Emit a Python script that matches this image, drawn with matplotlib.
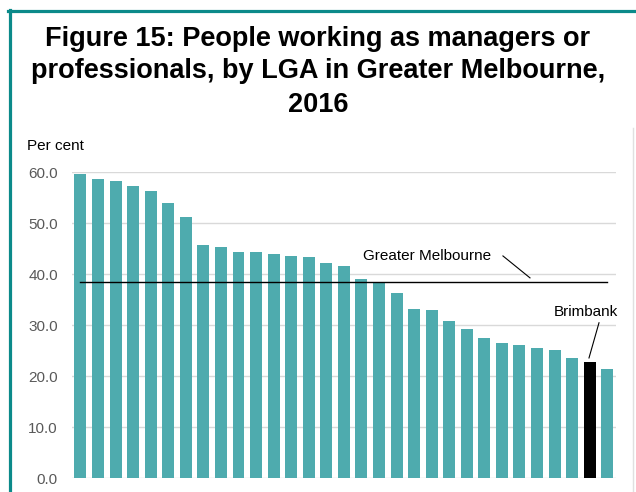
import numpy as np
import matplotlib
matplotlib.use('Agg')
import matplotlib.pyplot as plt
from matplotlib.lines import Line2D

plt.rcParams['font.family'] = ['Liberation Sans', 'DejaVu Sans']

# share of workers who are managers or professionals, one bar per LGA (sorted)
values = [59.7, 58.7, 58.3, 57.3, 56.3, 53.9, 51.2, 45.7, 45.3, 44.3,
          44.3, 44.0, 43.6, 43.4, 42.3, 41.6, 39.1, 38.4, 36.3, 33.2,
          33.0, 30.8, 29.3, 27.5, 26.5, 26.1, 25.5, 25.1, 23.6, 22.9,
          21.4]
highlight_index = 29          # Brimbank
greater_melbourne = 38.4
yticks = [0, 10, 20, 30, 40, 50, 60]
title_lines = ['Figure 15: People working as managers or',
               'professionals, by LGA in Greater Melbourne,',
               '2016']

TEAL = '#4EABAE'
FRAME = '#0B8A8A'

fig = plt.figure(figsize=(6.36, 4.92), dpi=100)
ax = fig.add_axes([0.1127, 0.0278, 0.8559, 0.622])

x = np.arange(len(values))
colors = [TEAL] * len(values)
colors[highlight_index] = 'black'
ax.bar(x, values, width=0.68, color=colors, zorder=3)

# Greater Melbourne average line across the bars
ax.plot([x[0], x[-1]], [greater_melbourne, greater_melbourne],
        color='black', lw=1, zorder=4)

ax.set_xlim(-0.5, len(values) - 0.5)
ax.set_ylim(0, 60)
ax.set_yticks(yticks)
ax.set_yticklabels([f'{v:.1f}' for v in yticks])
ax.set_xticks([])
ax.yaxis.grid(True, color='#D9D9D9', lw=1, zorder=0)
for s in ax.spines.values():
    s.set_visible(False)
ax.tick_params(axis='y', length=0, pad=10, labelsize=11, labelcolor='#595959')

# annotations
ax.text(19.73, 43.6, 'Greater Melbourne', ha='center', va='center', fontsize=11)
ax.plot([24.06, 25.6], [43.6, 39.3], color='black', lw=0.8, zorder=4)
ax.text(28.79, 32.7, 'Brimbank', ha='center', va='center', fontsize=11)
ax.plot([29.53, 28.96], [30.5, 23.6], color='black', lw=0.8, zorder=4)

fig.text(27 / 636, 1 - 146 / 492, 'Per cent', ha='left', va='center', fontsize=11)

# title, one baseline per line
for line, base in zip(title_lines, [46, 78.5, 111.5]):
    fig.text(0.5, 1 - base / 492, line, ha='center', va='baseline',
             fontsize=19.5, fontweight='bold')

# teal frame on top and left, faint line on right
fig.add_artist(Line2D([9.5 / 636, 9.5 / 636], [0, 1 - 9.5 / 492],
                      transform=fig.transFigure, color=FRAME, lw=2.3))
fig.add_artist(Line2D([8 / 636, 1], [1 - 11 / 492, 1 - 11 / 492],
                      transform=fig.transFigure, color=FRAME, lw=2.3))
fig.add_artist(Line2D([633 / 636, 633 / 636], [0, 1 - 128 / 492],
                      transform=fig.transFigure, color='#E0E0E0', lw=1))

fig.savefig('out.png', dpi=100)
